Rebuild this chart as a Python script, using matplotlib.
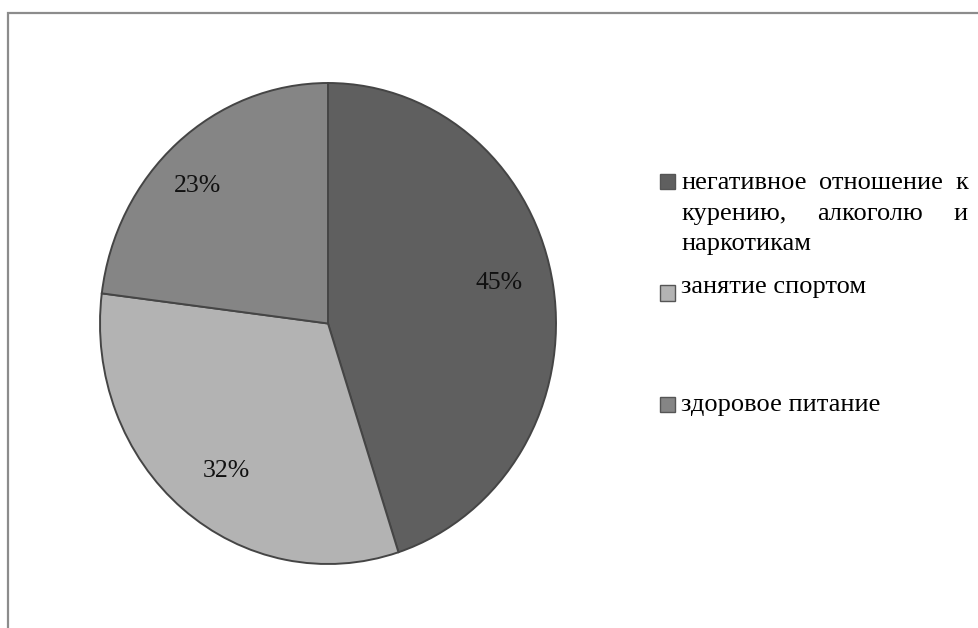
import matplotlib
matplotlib.use("Agg")
import numpy as np
import matplotlib.pyplot as plt
from matplotlib.patches import Rectangle

plt.rcParams['font.family'] = ['Liberation Serif', 'DejaVu Serif']

labels = ['негативное отношение к курению, алкоголю и наркотикам',
          'занятие спортом',
          'здоровое питание']
shares = [45, 32, 23]
colors = ['#5f5f5f', '#b3b3b3', '#858585']

W, H = 979, 628
fig = plt.figure(figsize=(W / 100, H / 100), dpi=100)


def fx(x):
    return x / W


def fy(y):
    return 1 - y / H


# outer frame (only left and top edges fall inside the image)
fig.patches.append(Rectangle((fx(8), fy(H + 20)), fx(W + 40), (H + 7) / H,
                             transform=fig.transFigure, fill=False,
                             edgecolor='#8c8c8c', linewidth=1.6))

# pie is slightly stretched vertically
ax = fig.add_axes([fx(100), fy(564), 456 / W, 481 / H])
wedges, _ = ax.pie(shares, colors=colors, startangle=90, counterclock=False,
                   wedgeprops=dict(edgecolor='#454545', linewidth=1.4))
for w in wedges:
    w.set_clip_on(False)

# percentage labels, nudged a little past the wedge middle
label_r = [0.77, 0.76, 0.81]
for w, s, r in zip(wedges, shares, label_r):
    ang = np.deg2rad((w.theta1 + w.theta2) / 2 + 3.5)
    ax.text(r * np.cos(ang), r * np.sin(ang), f'{s}%', fontsize=18.5,
            color='#111111', ha='center', va='center')

ax.set_xlim(-1, 1)
ax.set_ylim(-1, 1)
ax.set_aspect('auto')
ax.axis('off')

# legend drawn by hand so the first entry can be justified like in a text block
fs = 19
left, right = 681, 968
renderer = fig.canvas.get_renderer()


def justified(words, y):
    txts = [fig.text(0, fy(y), w, fontsize=fs, va='center', ha='left',
                     transform=fig.transFigure) for w in words]
    widths = [t.get_window_extent(renderer).width for t in txts]
    gap = (right - left - sum(widths)) / (len(words) - 1)
    x = left
    for t, w in zip(txts, widths):
        t.set_x(fx(x))
        x += w + gap


lines = ['негативное отношение к', 'курению, алкоголю и', 'наркотикам']
line_y = [183, 214, 244]
justified(lines[0].split(), line_y[0])
justified(lines[1].split(), line_y[1])
fig.text(fx(left), fy(line_y[2]), lines[2], fontsize=fs, va='center')

fig.text(fx(left), fy(287), labels[1], fontsize=fs, va='center')
fig.text(fx(left), fy(405), labels[2], fontsize=fs, va='center')

for c, yc in zip(colors, [181, 293, 404]):
    fig.patches.append(Rectangle((fx(660), fy(yc + 7.5)), 15 / W, 15 / H,
                                 transform=fig.transFigure, facecolor=c,
                                 edgecolor='#555555', linewidth=1.0))

fig.savefig('out.png', dpi=100)
